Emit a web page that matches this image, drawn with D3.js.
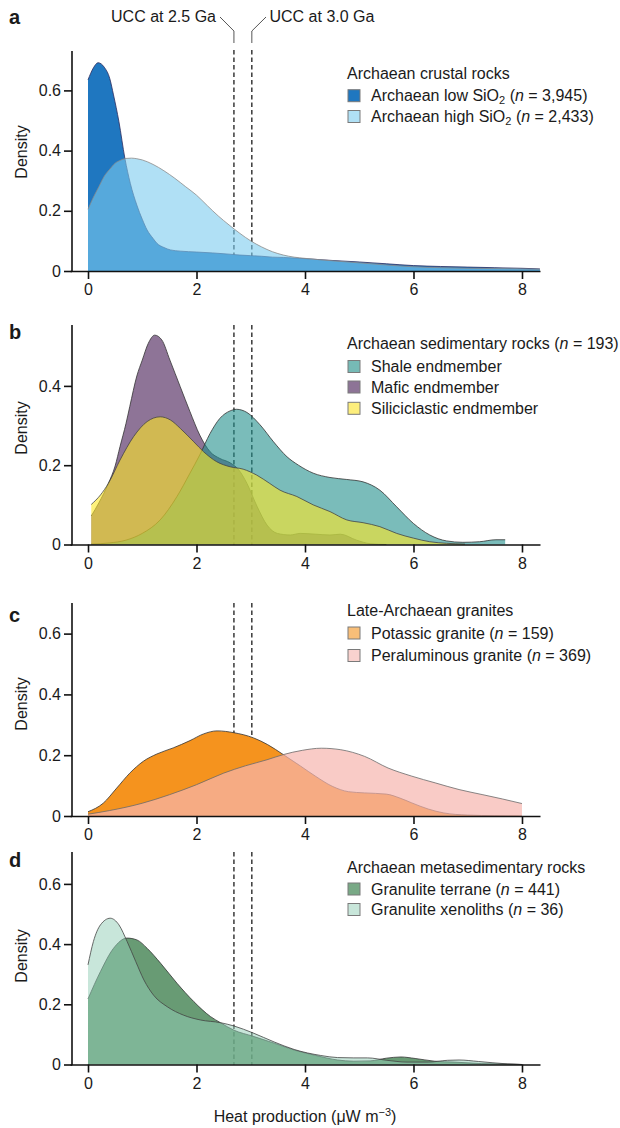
<!DOCTYPE html>
<html><head><meta charset="utf-8">
<script src="https://cdn.jsdelivr.net/npm/d3@7/dist/d3.min.js"></script>
<style>
body{margin:0;background:#fff}
text{font-family:"Liberation Sans",Arial,Helvetica,sans-serif;fill:#1a1a1a}
</style>
</head><body>
<svg id="chart" width="620" height="1128"></svg>
<script>
// ---------- data ----------
const xTicks = [0, 2, 4, 6, 8];
const uccLines = [2.69, 3.02];
const uccLabels = ["UCC at 2.5 Ga", "UCC at 3.0 Ga"];

// panel a: Archaean crustal rocks
const aLowX  = [0,0.1,0.185,0.3,0.4,0.47,0.57,0.68,0.78,0.9,1.0,1.09,1.2,1.27,1.4,1.52,1.7,2.0,2.3,2.6,2.8,3.0,3.2,3.4,3.6,3.8,4.0,4.5,5.0,5.5,6.0,6.5,7.0,7.5,8.0,8.33];
const aLowY  = [0.635,0.675,0.692,0.677,0.64,0.585,0.496,0.374,0.291,0.219,0.172,0.136,0.108,0.092,0.078,0.070,0.066,0.063,0.060,0.056,0.053,0.051,0.049,0.046,0.045,0.043,0.041,0.035,0.030,0.024,0.018,0.015,0.013,0.011,0.009,0.007];
const aHighX = [0,0.1,0.2,0.3,0.4,0.5,0.6,0.7,0.8,0.9,1.0,1.2,1.4,1.6,1.8,2.0,2.2,2.4,2.6,2.8,3.0,3.2,3.4,3.6,3.8,4.0,4.5,5.0,5.5,6.0,6.5,7.0,7.5,8.0,8.33];
const aHighY = [0.205,0.245,0.28,0.315,0.338,0.358,0.368,0.374,0.375,0.373,0.369,0.354,0.333,0.308,0.280,0.252,0.217,0.183,0.153,0.125,0.100,0.080,0.064,0.053,0.046,0.042,0.034,0.027,0.020,0.014,0.011,0.009,0.008,0.007,0.006];

// panel b: Archaean sedimentary rocks
const bMaficX = [0.06,0.2,0.375,0.5,0.59,0.7,0.77,0.9,1.0,1.11,1.23,1.36,1.51,1.7,1.88,2.06,2.25,2.43,2.62,2.78,2.93,3.12,3.3,3.49,3.73,3.91,4.2,4.46,4.65,4.95,5.2,5.5];
const bMaficY = [0.072,0.105,0.154,0.198,0.247,0.305,0.348,0.425,0.465,0.507,0.528,0.516,0.465,0.398,0.335,0.276,0.234,0.217,0.206,0.188,0.154,0.095,0.049,0.028,0.024,0.028,0.026,0.024,0.026,0.011,0.002,0.0];
const bShaleX = [0.06,0.4,0.7,1.0,1.33,1.64,1.88,2.06,2.25,2.43,2.62,2.74,2.93,3.17,3.42,3.67,3.88,4.15,4.46,4.77,5.07,5.38,5.69,6.0,6.3,6.61,6.91,7.22,7.52,7.69];
const bShaleY = [0.001,0.004,0.011,0.028,0.062,0.121,0.18,0.226,0.28,0.318,0.337,0.341,0.333,0.302,0.259,0.221,0.2,0.18,0.169,0.164,0.158,0.137,0.095,0.053,0.024,0.009,0.0055,0.007,0.012,0.012];
const bSiliX  = [0.06,0.23,0.375,0.59,0.84,1.09,1.33,1.52,1.7,1.95,2.13,2.37,2.62,2.86,3.11,3.35,3.54,3.85,4.15,4.46,4.77,5.07,5.38,5.69,6.0,6.3,6.61,6.95];
const bSiliY  = [0.101,0.125,0.154,0.213,0.272,0.31,0.322,0.314,0.293,0.259,0.234,0.209,0.196,0.19,0.175,0.154,0.137,0.121,0.1,0.083,0.062,0.055,0.045,0.028,0.016,0.007,0.003,0.001];

// panel c: Late-Archaean granites
const cPotX = [0,0.28,0.53,0.77,1.02,1.27,1.57,1.88,2.13,2.38,2.69,3.05,3.31,3.6,3.92,4.2,4.5,4.8,5.1,5.5,5.75,5.97,6.27,6.56,7.0,7.5,8.0];
const cPotY = [0.014,0.042,0.092,0.141,0.18,0.204,0.224,0.248,0.27,0.28,0.274,0.257,0.235,0.202,0.164,0.13,0.098,0.08,0.076,0.072,0.059,0.043,0.023,0.01,0.003,0.001,0.0];
const cPerX = [0,0.4,1.0,1.5,2.0,2.5,2.9,3.3,3.6,3.95,4.3,4.66,5.1,5.53,5.97,6.4,6.84,7.28,7.64,8.0];
const cPerY = [0.006,0.018,0.042,0.07,0.103,0.141,0.165,0.185,0.202,0.216,0.223,0.218,0.196,0.158,0.131,0.109,0.087,0.07,0.056,0.041];

// panel d: Archaean metasedimentary rocks
const dTerX = [0,0.23,0.47,0.72,0.9,1.09,1.34,1.64,1.95,2.26,2.44,2.69,3.04,3.43,3.8,4.2,4.6,4.9,5.2,5.5,5.77,6.03,6.39,6.75,7.26,7.85,8.0];
const dTerY = [0.218,0.309,0.386,0.42,0.414,0.386,0.336,0.27,0.209,0.159,0.139,0.114,0.094,0.071,0.048,0.03,0.015,0.011,0.012,0.021,0.025,0.02,0.011,0.008,0.003,0.001,0.0];
const dXenX = [0,0.1,0.23,0.41,0.57,0.72,0.88,1.03,1.21,1.46,1.76,2.07,2.44,2.69,3.04,3.43,3.8,4.29,4.6,4.9,5.15,5.51,5.88,6.27,6.63,6.84,7.2,7.73,8.0];
const dXenY = [0.331,0.409,0.464,0.486,0.464,0.409,0.342,0.281,0.23,0.192,0.164,0.148,0.139,0.128,0.105,0.075,0.05,0.03,0.023,0.022,0.022,0.014,0.008,0.008,0.014,0.015,0.01,0.002,0.0];

const yTicksA = [0, 0.2, 0.4, 0.6];
const yTicksB = [0, 0.2, 0.4];

// ---------- layout / style ----------
const svg = d3.select("#chart");
const X = d3.scaleLinear().domain([-0.332, 8.332]).range([70, 540]);

const panels = [
  {letter:"a", y0:271, top:51, ymax:0.7309, yTicks:yTicksA, letterY:23.5, densY:152,
   title:["Archaean crustal rocks"], titleY:73.3, rowY:[95.7,116.5],
   series:[
     {x:aLowX, y:aLowY, fill:"#1f77c0", op:1, stroke:"#2b2b5e",
      label:[["Archaean low SiO"],["2","sub"],[" ("],["n","i"],[" = 3,945)"]], sw:"#1f77c0"},
     {x:aHighX, y:aHighY, fill:"rgb(123,203,238)", op:0.6, stroke:"#8a8a8a",
      label:[["Archaean high SiO"],["2","sub"],[" ("],["n","i"],[" = 2,433)"]], sw:"#b0e0f5"}
   ]},
  {letter:"b", y0:544.5, top:325, ymax:0.5536, yTicks:yTicksB, letterY:339, densY:428,
   title:[["Archaean sedimentary rocks ("],["n","i"],[" = 193)"]], titleY:343.3, rowY:[366.5,387,408.3],
   series:[
     {x:bMaficX, y:bMaficY, fill:"rgb(66,24,82)", op:0.6, stroke:"#333", sw:"#8d7496",
      label:[["Mafic endmember"]], legendIdx:1},
     {x:bShaleX, y:bShaleY, fill:"#21908C", op:0.6, stroke:"#333", sw:"#76bab6",
      label:[["Shale endmember"]], legendIdx:0},
     {x:bSiliX, y:bSiliY, fill:"#FDE725", op:0.6, stroke:"#444", sw:"#fdee7c",
      label:[["Siliciclastic endmember"]], legendIdx:2}
   ]},
  {letter:"c", y0:816, top:603, ymax:0.7007, yTicks:yTicksA, letterY:622, densY:704,
   title:["Late-Archaean granites"], titleY:610, rowY:[633,655.5],
   series:[
     {x:cPotX, y:cPotY, fill:"rgb(245,147,30)", op:1, stroke:"#333", sw:"#f8be78",
      label:[["Potassic granite ("],["n","i"],[" = 159)"]]},
     {x:cPerX, y:cPerY, fill:"rgb(246,181,174)", op:0.7, stroke:"#6a6a6a", sw:"#f9d2ce",
      label:[["Peraluminous granite ("],["n","i"],[" = 369)"]]}
   ]},
  {letter:"d", y0:1064.5, top:852, ymax:0.706, yTicks:yTicksA, letterY:867, densY:956,
   title:["Archaean metasedimentary rocks"], titleY:867.3, rowY:[889,909.5],
   series:[
     {x:dTerX, y:dTerY, fill:"rgb(53,121,69)", op:0.75, stroke:"#333", sw:"#79a986",
      label:[["Granulite terrane ("],["n","i"],[" = 441)"]]},
     {x:dXenX, y:dXenY, fill:"rgb(147,206,182)", op:0.51, stroke:"#444", sw:"#c8e6da",
      label:[["Granulite xenoliths ("],["n","i"],[" = 36)"]]}
   ]}
];

function richText(sel, parts){
  parts.forEach(p=>{
    const arr = Array.isArray(p) ? p : [p];
    const t = sel.append("tspan").text(arr[0]);
    if(arr[1]==="i") t.attr("font-style","italic");
    if(arr[1]==="sub") t.attr("baseline-shift","-25%").attr("font-size","11px");
  });
}

panels.forEach(P=>{
  const Y = d3.scaleLinear().domain([0,P.ymax]).range([P.y0,P.top]);
  const g = svg.append("g");

  // dashed UCC lines (under fills)
  const dashTop = P.letter==="a" ? 50 : P.top;
  uccLines.forEach(v=>{
    g.append("line").attr("x1",X(v)).attr("x2",X(v))
      .attr("y1",dashTop).attr("y2",P.y0)
      .attr("stroke","#1a1a1a").attr("stroke-width",1.3)
      .attr("stroke-dasharray","4.5,3");
  });

  // density fills
  P.series.forEach(s=>{
    const pts = s.x.map((xv,i)=>[xv,s.y[i]]);
    const area = d3.area().x(d=>X(d[0])).y0(P.y0).y1(d=>Y(d[1])).curve(d3.curveMonotoneX);
    const line = d3.line().x(d=>X(d[0])).y(d=>Y(d[1])).curve(d3.curveMonotoneX);
    g.append("path").attr("d",area(pts)).attr("fill",s.fill).attr("fill-opacity",s.op);
    g.append("path").attr("d",line(pts)).attr("fill","none")
      .attr("stroke",s.stroke).attr("stroke-width",0.8);
  });

  // axes
  const ax = g.append("g").attr("transform",`translate(0,${P.y0})`)
    .call(d3.axisBottom(X).tickValues(xTicks).tickSize(8).tickPadding(5).tickSizeOuter(0));
  const ay = g.append("g").attr("transform",`translate(72,0)`)
    .call(d3.axisLeft(Y).tickValues(P.yTicks).tickSize(8).tickPadding(3).tickSizeOuter(0)
      .tickFormat(d=>d===0?"0":d3.format(".1f")(d)));
  [ax,ay].forEach(a=>{
    a.select(".domain").attr("stroke","#111").attr("stroke-width",1.6);
    a.selectAll(".tick line").attr("stroke","#111").attr("stroke-width",1.6);
    a.selectAll(".tick text").attr("font-size","16px").attr("fill","#1a1a1a")
      .attr("font-family","Liberation Sans, Arial, sans-serif");
  });
  ay.select(".domain").attr("d",`M0,${P.y0+0.8}V${P.top}`);

  // panel letter
  svg.append("text").attr("x",9).attr("y",P.letterY).attr("font-size","20px")
    .attr("font-weight","bold").text(P.letter);

  // Density label
  svg.append("text").attr("transform",`translate(27,${P.densY}) rotate(-90)`)
    .attr("text-anchor","middle").attr("font-size","16px").text("Density");

  // legend
  const tt = svg.append("text").attr("x",347).attr("y",P.titleY).attr("dy","0.35em").attr("font-size","16px");
  richText(tt, P.title);
  P.series.forEach((s,i)=>{
    const ri = s.legendIdx!==undefined ? s.legendIdx : i;
    const cy = P.rowY[ri];
    svg.append("rect").attr("x",348).attr("y",cy-6).attr("width",12).attr("height",12)
      .attr("fill",s.sw).attr("stroke","#7a7a7a").attr("stroke-width",1);
    const t = svg.append("text").attr("x",371).attr("y",cy).attr("dy","0.35em").attr("font-size","16px");
    richText(t, s.label);
  });
});

// UCC annotations at top
svg.append("text").attr("x",216).attr("y",22).attr("text-anchor","end").attr("font-size","16px").text(uccLabels[0]);
svg.append("text").attr("x",269.5).attr("y",22).attr("text-anchor","start").attr("font-size","16px").text(uccLabels[1]);
const lead = d3.line();
svg.append("path").attr("d",lead([[220,17],[X(uccLines[0]),31],[X(uccLines[0]),43]]))
  .attr("fill","none").attr("stroke","#555").attr("stroke-width",1);
svg.append("path").attr("d",lead([[266,17],[X(uccLines[1]),31],[X(uccLines[1]),43]]))
  .attr("fill","none").attr("stroke","#555").attr("stroke-width",1);

// x-axis title
const xt = svg.append("text").attr("x",305).attr("y",1122).attr("text-anchor","middle").attr("font-size","16px");
xt.append("tspan").text("Heat production (\u03bcW m");
xt.append("tspan").attr("baseline-shift","super").attr("font-size","11px").text("\u22123");
xt.append("tspan").text(")");
</script>
</body></html>
